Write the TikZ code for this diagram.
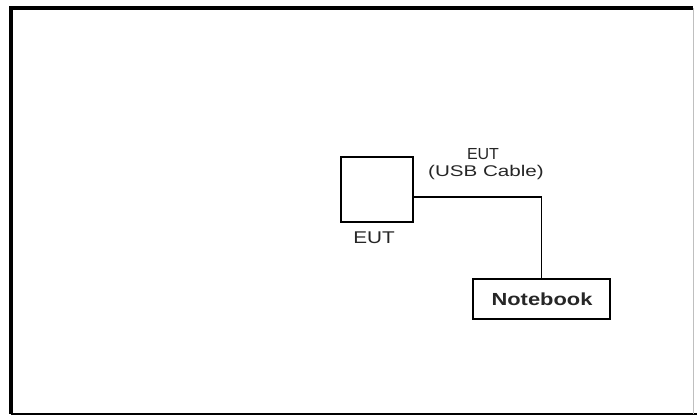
\documentclass[tikz,border=0pt]{standalone}
\usepackage{fontspec}
\setmainfont{Liberation Sans}
\begin{document}
\begin{tikzpicture}[x=1pt,y=-1pt,
  boxst/.style={draw=black, line width=1.5pt, inner sep=0pt, fill=white},
  lbl/.style={inner sep=0pt, anchor=base, text=black!85},
  wire/.style={draw=black, line width=1.3pt}]
\useasboundingbox (0,0) rectangle (697,416);
% frame
\draw[line width=4pt, black] (693,8) -- (11,8) -- (11,414);
\draw[line width=2.5pt, black] (11,414) -- (697,414);
\draw[line width=0.6pt, black!25] (693,8) -- (693,414);
% boxes
\node[boxst, minimum width=72pt, minimum height=65pt] (eut) at (377,189.5) {};
\node[boxst, minimum width=137pt, minimum height=40pt] (nb) at (541.5,299) {};
% cable
\draw[wire] ([yshift=-7.5pt]eut.east) -| (nb.north);
% labels
\node[lbl] (t1) at (483,159) {\fontsize{16}{16}\selectfont\scalebox{1.0}[1]{EUT}};
\node[lbl] (t2) at (486,176.5) {\fontsize{15.5}{16}\selectfont\scalebox{1.33}[1]{(USB Cable)}};
\node[lbl] (t3) at (374,243) {\fontsize{17}{17}\selectfont\scalebox{1.22}[1]{EUT}};
\node[lbl] (t4) at (542,305) {\fontsize{17.5}{18}\selectfont\bfseries\scalebox{1.25}[1]{Notebook}};
\end{tikzpicture}
\end{document}
